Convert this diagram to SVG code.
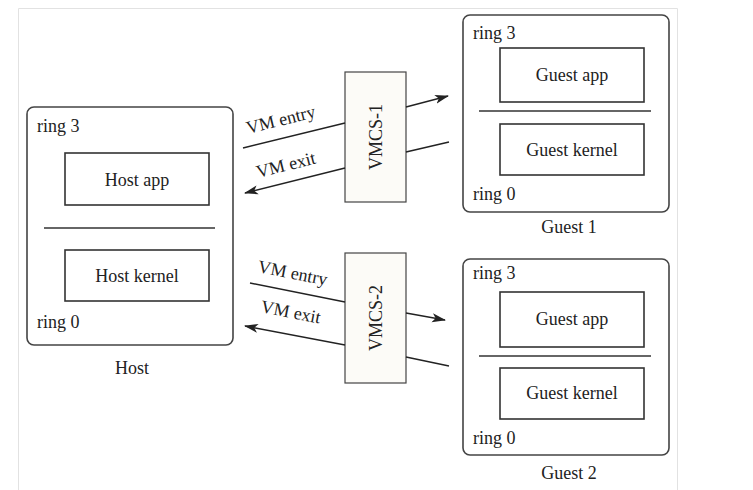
<svg xmlns="http://www.w3.org/2000/svg" width="753" height="490" viewBox="0 0 753 490">
<defs>
<style>
text{font-family:"Liberation Serif","Times New Roman",serif;font-size:18px;fill:#222}
.outer{fill:#fff;stroke:#444;stroke-width:1.6}
.inner{fill:#fff;stroke:#333;stroke-width:1.6}
.div{stroke:#333;stroke-width:1.6}
.vmcs{fill:#fcfbf7;stroke:#444;stroke-width:1.2}
.conn{stroke:#222;stroke-width:1.4;fill:none}
.mid{text-anchor:middle}
</style>
<marker id="ah" markerWidth="14" markerHeight="10" refX="13" refY="5" orient="auto" markerUnits="userSpaceOnUse">
<path d="M0,0.5 L14,5 L0,9.5 L3.5,5 z" fill="#222"/>
</marker>
</defs>
<rect x="0" y="0" width="753" height="490" fill="#fff"/>
<path d="M18.5,490 V8.5 H677.5 V490" fill="none" stroke="#e2e2e2" stroke-width="1"/>

<g id="host">
<rect class="outer" x="27" y="107" width="206" height="238" rx="7"/>
<text x="37" y="132">ring 3</text>
<rect class="inner" x="65" y="153" width="144" height="52"/>
<text class="mid" x="137" y="186">Host app</text>
<line class="div" x1="44" y1="228" x2="215" y2="228"/>
<rect class="inner" x="65" y="250" width="144" height="51"/>
<text class="mid" x="137" y="282">Host kernel</text>
<text x="37" y="328">ring 0</text>
<text class="mid" x="132" y="374">Host</text>
</g>

<g id="guest1">
<rect class="outer" x="463" y="15" width="206" height="197" rx="7"/>
<text x="473" y="39">ring 3</text>
<rect class="inner" x="500" y="48" width="144" height="54"/>
<text class="mid" x="572" y="81">Guest app</text>
<line class="div" x1="479" y1="111" x2="651" y2="111"/>
<rect class="inner" x="500" y="124" width="144" height="51"/>
<text class="mid" x="572" y="156">Guest kernel</text>
<text x="473" y="200">ring 0</text>
<text class="mid" x="569" y="233">Guest 1</text>
</g>

<g id="guest2">
<rect class="outer" x="463" y="259" width="206" height="196" rx="7"/>
<text x="473" y="279">ring 3</text>
<rect class="inner" x="500" y="292" width="144" height="55"/>
<text class="mid" x="572" y="325">Guest app</text>
<line class="div" x1="479" y1="356" x2="651" y2="356"/>
<rect class="inner" x="500" y="368" width="144" height="51"/>
<text class="mid" x="572" y="399">Guest kernel</text>
<text x="473" y="444">ring 0</text>
<text class="mid" x="569" y="479">Guest 2</text>
</g>

<g id="vmcs1">
<rect class="vmcs" x="345" y="72" width="61" height="130"/>
<text class="mid" transform="translate(382,137) rotate(-90)">VMCS-1</text>
</g>

<g id="vmcs2">
<rect class="vmcs" x="345" y="253" width="61" height="130"/>
<text class="mid" transform="translate(382,318) rotate(-90)">VMCS-2</text>
</g>

<g id="connectors">
<line class="conn" x1="243" y1="148" x2="345" y2="123"/>
<line class="conn" x1="406" y1="107" x2="448" y2="96" marker-end="url(#ah)"/>
<line class="conn" x1="449" y1="142" x2="406" y2="152"/>
<line class="conn" x1="345" y1="168" x2="245" y2="193" marker-end="url(#ah)"/>
<line class="conn" x1="250" y1="283" x2="345" y2="302"/>
<line class="conn" x1="406" y1="313" x2="445" y2="320" marker-end="url(#ah)"/>
<line class="conn" x1="449" y1="366" x2="406" y2="357"/>
<line class="conn" x1="345" y1="345" x2="245" y2="326" marker-end="url(#ah)"/>
<text transform="translate(248,134) rotate(-14)">VM entry</text>
<text transform="translate(258,178) rotate(-14)">VM exit</text>
<text transform="translate(257,272) rotate(11)">VM entry</text>
<text transform="translate(260,312) rotate(11)">VM exit</text>
</g>
</svg>
